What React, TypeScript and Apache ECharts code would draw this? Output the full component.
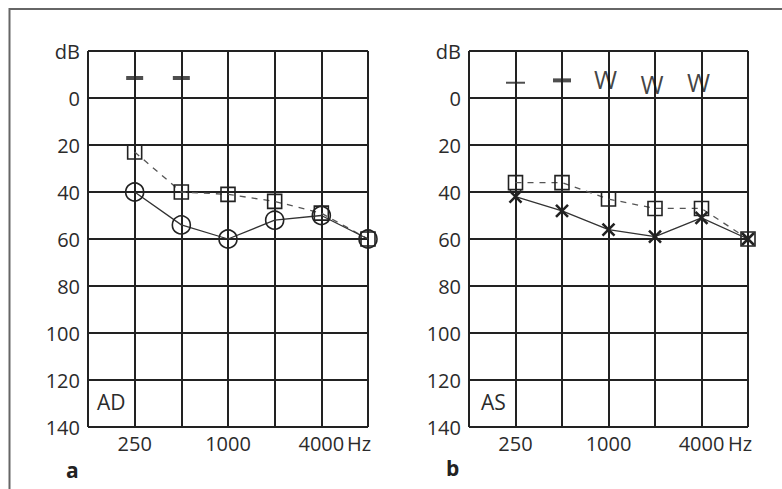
import React, { useEffect, useRef } from "react";
import * as echarts from "echarts";

// x positions are octave indices: 0=125, 1=250, 2=500, 3=1000, 4=2000, 5=4000, 6=8000 Hz
const FREQ_TICKS = ["", "250", "", "1000", "", "4000", ""];
const FREQ_IDX = [1, 2, 3, 4, 5, 6];
const Y_TOP_LABEL = "dB";

// Panel a (AD)
const adAirDb = [40, 54, 60, 52, 50, 60];
const adBoneDb = [23, 40, 41, 44, 49, 60];
const adMaskIdx = [1, 2];
const adMaskDb = [-8.5, -8.5];

// Panel b (AS)
const asAirDb = [42, 48, 56, 59, 51, 60];
const asBoneDb = [36, 36, 43, 47, 47, 60];
const asThinMaskIdx = [1];
const asThinMaskDb = [-6.5];
const asBoldMaskIdx = [2];
const asBoldMaskDb = [-7.5];
const asWIdx = [3, 4, 5];
const asWDb = [-8, -6, -7];

const FONT = "'Open Sans', 'Noto Sans', sans-serif";
const INK = "#222";
const TEXT = "#2b2b2b";

const pairs = (xs: number[], ys: number[]) => xs.map((x, i) => [x, ys[i]]);

const X_SYMBOL = "path://M0,0L10,10M10,0L0,10";

export default function App() {
  const ref = useRef<HTMLDivElement>(null);
  useEffect(() => {
    if (!ref.current) return;
    const chart = echarts.init(ref.current, undefined, { renderer: "svg" });

    const xAxisBase = (gridIndex: number) => ({
      type: "value",
      gridIndex,
      min: 0,
      max: 6,
      interval: 1,
      axisLine: { show: false },
      axisTick: { show: false },
      axisLabel: {
        formatter: (v: number) => FREQ_TICKS[v] ?? "",
        fontFamily: FONT,
        fontSize: 20,
        color: TEXT,
        margin: 6,
      },
      splitLine: { show: true, lineStyle: { color: INK, width: 2 } },
    });
    const yAxisBase = (gridIndex: number) => ({
      type: "value",
      gridIndex,
      inverse: true,
      min: -20,
      max: 140,
      interval: 20,
      axisLine: { show: false },
      axisTick: { show: false },
      axisLabel: {
        formatter: (v: number) => (v === -20 ? Y_TOP_LABEL : String(v)),
        fontFamily: FONT,
        fontSize: 20,
        color: TEXT,
        margin: 8,
      },
      splitLine: { show: true, lineStyle: { color: INK, width: 2 } },
    });

    const solidLine = (idx: number, data: number[][], symbol: string, size: number, bw: number) => ({
      type: "line",
      xAxisIndex: idx,
      yAxisIndex: idx,
      data,
      symbol,
      symbolSize: size,
      showAllSymbol: true,
      lineStyle: { color: "#333", width: 1.3 },
      itemStyle: { color: "rgba(0,0,0,0)", borderColor: "#222", borderWidth: bw },
      z: 5,
    });
    const dashedLine = (idx: number, data: number[][]) => ({
      type: "line",
      xAxisIndex: idx,
      yAxisIndex: idx,
      data,
      symbol: "rect",
      symbolSize: 14,
      showAllSymbol: true,
      lineStyle: { color: "#555", width: 1.3, type: [6, 6] },
      itemStyle: { color: "rgba(0,0,0,0)", borderColor: "#222", borderWidth: 1.6 },
      z: 4,
    });
    const dash = (idx: number, data: number[][], w: number, h: number) => ({
      type: "scatter",
      xAxisIndex: idx,
      yAxisIndex: idx,
      data,
      symbol: "rect",
      symbolSize: [w, h],
      itemStyle: { color: INK },
      z: 6,
    });

    chart.setOption({
      animation: false,
      backgroundColor: "#fff",
      grid: [
        { left: 88, top: 51, width: 280, height: 376 },
        { left: 469, top: 51, width: 279, height: 376 },
      ],
      xAxis: [xAxisBase(0), xAxisBase(1)],
      yAxis: [yAxisBase(0), yAxisBase(1)],
      series: [
        dashedLine(0, pairs(FREQ_IDX, adBoneDb)),
        solidLine(0, pairs(FREQ_IDX, adAirDb), "circle", 18, 1.6),
        dash(0, pairs(adMaskIdx, adMaskDb), 17, 4),
        dashedLine(1, pairs(FREQ_IDX, asBoneDb)),
        solidLine(1, pairs(FREQ_IDX, asAirDb), X_SYMBOL, 12, 2.6),
        dash(1, pairs(asThinMaskIdx, asThinMaskDb), 19, 2),
        dash(1, pairs(asBoldMaskIdx, asBoldMaskDb), 18, 4),
        {
          type: "scatter",
          xAxisIndex: 1,
          yAxisIndex: 1,
          data: pairs(asWIdx, asWDb),
          symbolSize: 1,
          itemStyle: { color: "rgba(0,0,0,0)" },
          label: {
            show: true,
            position: "inside",
            formatter: "W",
            fontFamily: FONT,
            fontSize: 25,
            fontWeight: 500,
            color: "#111",
            offset: [-3, 0],
          },
          z: 6,
        },
      ],
      graphic: [
        {
          type: "polyline",
          shape: { points: [[9.5, 489], [9.5, 9], [782, 9]] },
          style: { stroke: "#666", lineWidth: 2, fill: "none" },
        },
        { type: "text", left: 97, top: 391, style: { text: "AD", font: `21px ${FONT}`, fill: TEXT } },
        { type: "text", left: 481, top: 391, style: { text: "AS", font: `21px ${FONT}`, fill: TEXT } },
        { type: "text", left: 347, top: 433, style: { text: "Hz", font: `20px ${FONT}`, fill: TEXT } },
        { type: "text", left: 728, top: 433, style: { text: "Hz", font: `20px ${FONT}`, fill: TEXT } },
        { type: "text", left: 66, top: 459, style: { text: "a", font: `bold 21px ${FONT}`, fill: "#222" } },
        { type: "text", left: 446, top: 457, style: { text: "b", font: `bold 21px ${FONT}`, fill: "#222" } },
      ],
    });
    return () => chart.dispose();
  }, []);
  return (
    <div
      ref={ref}
      style={{ position: "fixed", left: 0, top: 0, width: 782, height: 489, background: "#fff" }}
    />
  );
}
